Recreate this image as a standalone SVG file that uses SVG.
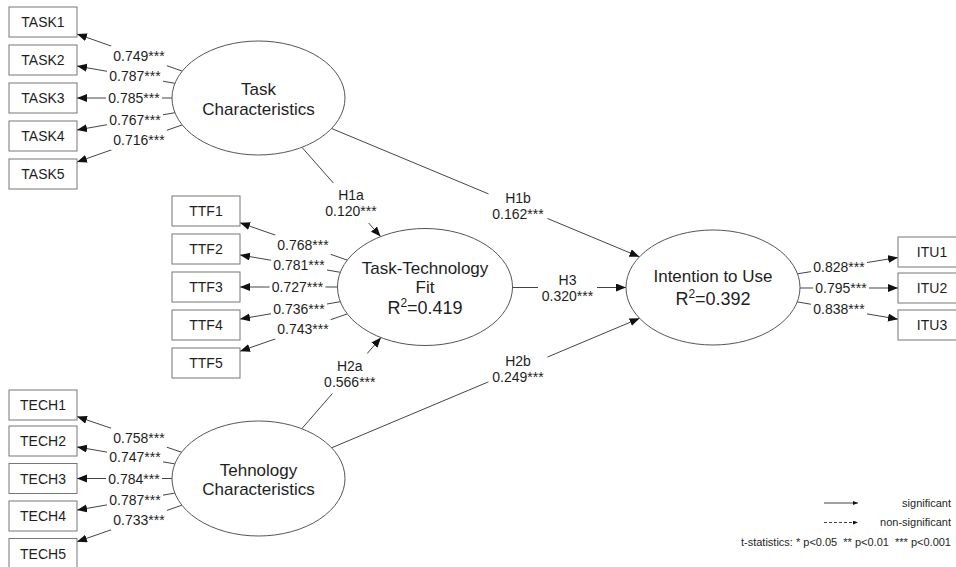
<svg xmlns="http://www.w3.org/2000/svg" width="956" height="567" viewBox="0 0 956 567">
<defs>
<marker id="ah" markerUnits="userSpaceOnUse" markerWidth="11" markerHeight="9" refX="10" refY="4" orient="auto">
<path d="M0,0 L10,4 L0,8 z" fill="#111"/>
</marker>
<marker id="ahs" markerUnits="userSpaceOnUse" markerWidth="6" markerHeight="5" refX="5" refY="2" orient="auto">
<path d="M0,0 L5,2 L0,4 z" fill="#111"/>
</marker>
<style>
text { font-family: "Liberation Sans", Arial, sans-serif; fill: #1e1e1e; }
.box { fill: #fff; stroke: #777; stroke-width: 1; }
.lat { fill: #fff; stroke: #555; stroke-width: 1; }
.t14 { font-size: 14px; text-anchor: middle; }
.t17 { font-size: 17px; text-anchor: middle; }
.t18 { font-size: 18px; text-anchor: middle; }
.edge { stroke: #444; stroke-width: 1; fill: none; marker-end: url(#ah); }
.bg { fill: #fff; }
.leg { font-size: 11px; text-anchor: end; }
</style>
</defs>
<rect width="956" height="567" fill="#fff"/>

<g id="connectors">
<!-- Task loadings -->
<line class="edge" x1="182.2" y1="71.1" x2="77" y2="34"/>
<line class="edge" x1="174.9" y1="83.3" x2="77" y2="66"/>
<line class="edge" x1="172" y1="98" x2="77" y2="98"/>
<line class="edge" x1="174.9" y1="112.7" x2="77" y2="130"/>
<line class="edge" x1="182.2" y1="124.9" x2="77" y2="162"/>
<!-- TTF loadings -->
<line class="edge" x1="347.3" y1="260.1" x2="240" y2="222.8"/>
<line class="edge" x1="340.3" y1="272.3" x2="240" y2="254.9"/>
<line class="edge" x1="337.5" y1="287" x2="240" y2="287"/>
<line class="edge" x1="340.3" y1="301.7" x2="240" y2="319.1"/>
<line class="edge" x1="347.3" y1="313.9" x2="240" y2="351.2"/>
<!-- Tech loadings -->
<line class="edge" x1="181.5" y1="452.2" x2="77" y2="416.6"/>
<line class="edge" x1="174.8" y1="463.9" x2="77" y2="446.9"/>
<line class="edge" x1="172" y1="478.5" x2="77" y2="478.5"/>
<line class="edge" x1="174.8" y1="493.1" x2="77" y2="510.1"/>
<line class="edge" x1="181.9" y1="505.2" x2="77" y2="541.7"/>
<!-- ITU loadings -->
<line class="edge" x1="797.5" y1="273.8" x2="898" y2="257.5"/>
<line class="edge" x1="800" y1="288" x2="898" y2="288"/>
<line class="edge" x1="797.2" y1="301.9" x2="898" y2="319.2"/>
<!-- Structural paths -->
<line class="edge" x1="301.9" y1="147.3" x2="380.6" y2="236.6"/>
<line class="edge" x1="331.6" y1="128.5" x2="639.4" y2="256.8"/>
<line class="edge" x1="512.5" y1="287.5" x2="626" y2="287.5"/>
<line class="edge" x1="301.8" y1="428.7" x2="381" y2="337.6"/>
<line class="edge" x1="331.6" y1="447.8" x2="639.6" y2="318.3"/>

<!-- loading labels -->
<rect class="bg" x="111" y="45.9" width="56" height="20"/><text class="t14" x="139" y="60.9">0.749***</text>
<rect class="bg" x="107" y="66.2" width="56" height="20"/><text class="t14" x="135" y="81.2">0.787***</text>
<rect class="bg" x="106" y="88" width="56" height="20"/><text class="t14" x="134" y="103">0.785***</text>
<rect class="bg" x="107" y="109.8" width="56" height="20"/><text class="t14" x="135" y="124.8">0.767***</text>
<rect class="bg" x="111" y="130.1" width="56" height="20"/><text class="t14" x="139" y="145.1">0.716***</text>

<rect class="bg" x="275" y="234.7" width="56" height="20"/><text class="t14" x="303" y="249.7">0.768***</text>
<rect class="bg" x="271" y="255.1" width="56" height="20"/><text class="t14" x="299" y="270.1">0.781***</text>
<rect class="bg" x="269.5" y="277" width="56" height="20"/><text class="t14" x="297.5" y="292">0.727***</text>
<rect class="bg" x="271" y="298.9" width="56" height="20"/><text class="t14" x="299" y="313.9">0.736***</text>
<rect class="bg" x="275" y="319.3" width="56" height="20"/><text class="t14" x="303" y="334.3">0.743***</text>

<rect class="bg" x="111" y="427.7" width="56" height="20"/><text class="t14" x="139" y="442.7">0.758***</text>
<rect class="bg" x="107" y="447" width="56" height="20"/><text class="t14" x="135" y="462">0.747***</text>
<rect class="bg" x="106" y="468.5" width="56" height="20"/><text class="t14" x="134" y="483.5">0.784***</text>
<rect class="bg" x="107" y="490" width="56" height="20"/><text class="t14" x="135" y="505">0.787***</text>
<rect class="bg" x="111" y="510.1" width="56" height="20"/><text class="t14" x="139" y="525.1">0.733***</text>

<rect class="bg" x="811" y="257.1" width="56" height="20"/><text class="t14" x="839" y="272.1">0.828***</text>
<rect class="bg" x="813" y="278" width="56" height="20"/><text class="t14" x="841" y="293">0.795***</text>
<rect class="bg" x="811" y="299.1" width="56" height="20"/><text class="t14" x="839" y="314.1">0.838***</text>

<!-- path labels -->
<rect class="bg" x="321.5" y="183" width="59" height="40"/>
<text class="t14" x="351" y="200">H1a</text><text class="t14" x="351" y="216">0.120***</text>
<rect class="bg" x="488.5" y="186.2" width="59" height="40"/>
<text class="t14" x="518" y="203.2">H1b</text><text class="t14" x="518" y="219.2">0.162***</text>
<rect class="bg" x="538" y="267.5" width="59" height="40"/>
<text class="t14" x="567.5" y="284.5">H3</text><text class="t14" x="567.5" y="300.5">0.320***</text>
<rect class="bg" x="320.3" y="353.5" width="59" height="40"/>
<text class="t14" x="349.8" y="370.5">H2a</text><text class="t14" x="349.8" y="386.5">0.566***</text>
<rect class="bg" x="488.5" y="349.4" width="59" height="40"/>
<text class="t14" x="518" y="366.4">H2b</text><text class="t14" x="518" y="382.4">0.249***</text>
</g>

<g id="task_characteristics">
<ellipse class="lat" cx="258.5" cy="98" rx="86.5" ry="57"/>
<text class="t17" x="258.5" y="95">Task</text>
<text class="t17" x="258.5" y="115">Characteristics</text>
</g>
<g id="task_technology_fit">
<ellipse class="lat" cx="425" cy="287" rx="87.5" ry="58.5"/>
<text class="t17" x="425" y="274">Task-Technology</text>
<text class="t17" x="425" y="293">Fit</text>
<text class="t18" x="425" y="314">R<tspan font-size="12" dy="-7">2</tspan><tspan dy="7">=0.419</tspan></text>
</g>
<g id="technology_characteristics">
<ellipse class="lat" cx="258.5" cy="478.5" rx="86.5" ry="57.5"/>
<text class="t17" x="258.5" y="475.5">Tehnology</text>
<text class="t17" x="258.5" y="495">Characteristics</text>
</g>
<g id="intention_to_use">
<ellipse class="lat" cx="713" cy="287.5" rx="87" ry="57.5"/>
<text class="t17" x="713" y="281.5">Intention to Use</text>
<text class="t18" x="713" y="305">R<tspan font-size="12" dy="-7">2</tspan><tspan dy="7">=0.392</tspan></text>
</g>

<g id="TASK1"><rect class="box" x="9" y="7" width="68" height="30"/><text class="t14" x="43" y="27">TASK1</text></g>
<g id="TASK2"><rect class="box" x="9" y="45" width="68" height="30"/><text class="t14" x="43" y="65">TASK2</text></g>
<g id="TASK3"><rect class="box" x="9" y="83" width="68" height="30"/><text class="t14" x="43" y="103">TASK3</text></g>
<g id="TASK4"><rect class="box" x="9" y="121" width="68" height="30"/><text class="t14" x="43" y="141">TASK4</text></g>
<g id="TASK5"><rect class="box" x="9" y="159" width="68" height="30"/><text class="t14" x="43" y="179">TASK5</text></g>

<g id="TTF1"><rect class="box" x="172" y="196" width="68" height="30"/><text class="t14" x="206" y="216">TTF1</text></g>
<g id="TTF2"><rect class="box" x="172" y="234" width="68" height="30"/><text class="t14" x="206" y="254">TTF2</text></g>
<g id="TTF3"><rect class="box" x="172" y="272" width="68" height="30"/><text class="t14" x="206" y="292">TTF3</text></g>
<g id="TTF4"><rect class="box" x="172" y="310" width="68" height="30"/><text class="t14" x="206" y="330">TTF4</text></g>
<g id="TTF5"><rect class="box" x="172" y="348" width="68" height="30"/><text class="t14" x="206" y="368">TTF5</text></g>

<g id="TECH1"><rect class="box" x="9" y="390" width="68" height="30"/><text class="t14" x="43" y="410">TECH1</text></g>
<g id="TECH2"><rect class="box" x="9" y="426" width="68" height="30"/><text class="t14" x="43" y="446">TECH2</text></g>
<g id="TECH3"><rect class="box" x="9" y="463.5" width="68" height="30"/><text class="t14" x="43" y="483.5">TECH3</text></g>
<g id="TECH4"><rect class="box" x="9" y="501" width="68" height="30"/><text class="t14" x="43" y="521">TECH4</text></g>
<g id="TECH5"><rect class="box" x="9" y="538.5" width="68" height="30"/><text class="t14" x="43" y="558.5">TECH5</text></g>

<g id="ITU1"><rect class="box" x="898" y="237" width="68" height="30"/><text class="t14" x="932" y="257">ITU1</text></g>
<g id="ITU2"><rect class="box" x="898" y="273" width="68" height="30"/><text class="t14" x="932" y="293">ITU2</text></g>
<g id="ITU3"><rect class="box" x="898" y="310" width="68" height="30"/><text class="t14" x="932" y="330">ITU3</text></g>

<g id="legend">
<line x1="824" y1="503" x2="858" y2="503" stroke="#444" stroke-width="1" marker-end="url(#ahs)"/>
<line x1="824" y1="522.5" x2="858" y2="522.5" stroke="#444" stroke-width="1" stroke-dasharray="3,2" marker-end="url(#ahs)"/>
<text class="leg" x="951" y="506.5">significant</text>
<text class="leg" x="951" y="526">non-significant</text>
<text class="leg" x="951" y="545.5" xml:space="preserve">t-statistics: * p&lt;0.05  ** p&lt;0.01  *** p&lt;0.001</text>
</g>
</svg>
